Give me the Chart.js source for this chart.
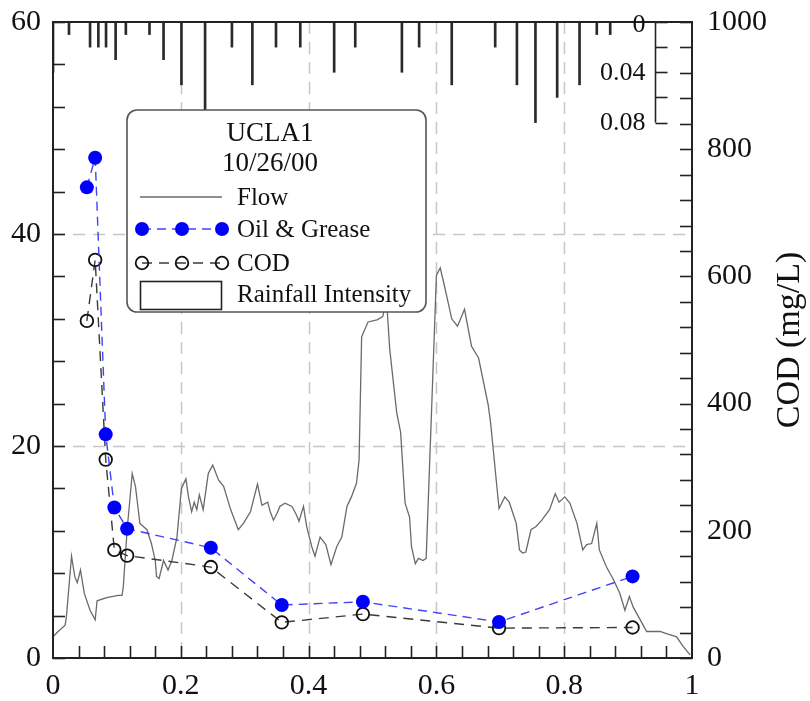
<!DOCTYPE html>
<html><head><meta charset="utf-8">
<script src="https://cdn.jsdelivr.net/npm/chart.js@4/dist/chart.umd.min.js"></script>
<style>html,body{margin:0;padding:0;background:#fff;}canvas{display:block;}</style>
</head><body>
<canvas id="c" width="810" height="701"></canvas>
<script>
// ---------- data ----------
const legendTitle = ['UCLA1', '10/26/00'];
const xMajorTicks = [0, 0.2, 0.4, 0.6, 0.8, 1];
const xTickLabels = ['0', '0.2', '0.4', '0.6', '0.8', '1'];
const leftMajorTicks = [0, 20, 40, 60];
const codMajorTicks = [0, 200, 400, 600, 800, 1000];
const rainAxisTicks = [0, 0.02, 0.04, 0.06, 0.08];
const rainTickLabels = [0, 0.04, 0.08];
const codAxisTitle = 'COD (mg/L)';

const flowTime = [0,0.008,0.019,0.021,0.029,0.034,0.038,0.043,0.049,0.058,0.066,0.069,0.084,0.102,0.108,0.110,0.116,0.124,0.129,0.136,0.147,0.154,0.160,0.162,0.166,0.173,0.180,0.186,0.194,0.201,0.208,0.212,0.217,0.221,0.225,0.229,0.235,0.243,0.250,0.259,0.267,0.278,0.290,0.298,0.309,0.320,0.327,0.336,0.340,0.345,0.351,0.355,0.363,0.374,0.381,0.385,0.392,0.397,0.405,0.410,0.418,0.427,0.435,0.444,0.452,0.460,0.467,0.475,0.479,0.483,0.493,0.507,0.516,0.522,0.527,0.538,0.544,0.551,0.558,0.561,0.567,0.572,0.579,0.584,0.593,0.600,0.606,0.613,0.624,0.633,0.644,0.655,0.666,0.681,0.685,0.698,0.707,0.714,0.725,0.730,0.735,0.740,0.748,0.756,0.765,0.777,0.786,0.792,0.801,0.809,0.820,0.829,0.835,0.843,0.851,0.855,0.866,0.877,0.887,0.895,0.902,0.908,0.919,0.929,0.950,0.960,0.976,0.986,0.997];
const flowValue = [2.0,2.5,3.1,3.9,9.6,7.7,7.1,8.3,6.1,4.5,3.6,5.4,5.7,5.9,5.9,6.7,12.1,17.4,16.2,12.7,12.1,10.8,9.2,7.7,7.5,9.2,8.3,9.2,11.4,16.0,16.9,15.2,13.8,14.7,14.0,15.4,14.0,17.4,18.2,16.8,16.2,14.0,12.1,12.7,13.8,16.4,14.4,14.7,13.8,13.0,13.7,14.3,14.6,14.3,13.5,12.9,14.3,12.4,10.5,9.6,11.4,10.7,8.8,10.5,11.4,14.3,15.2,16.5,18.7,30.3,31.7,31.9,32.2,33.8,29.1,23.1,21.3,14.6,13.3,10.5,8.9,9.4,9.2,9.4,24.3,36.1,36.8,35.0,32.0,31.3,32.9,29.4,28.3,23.9,22.1,14.1,15.2,14.7,12.7,10.2,9.9,10.0,12.1,12.4,13.0,14.0,15.5,14.7,15.2,14.6,12.7,10.2,10.7,10.8,12.7,10.2,8.6,7.4,6.1,4.5,5.8,4.8,3.6,2.5,2.5,2.3,2.0,1.1,0.3];

const sampleTime = [0.053, 0.066, 0.0825, 0.096, 0.116, 0.247, 0.358, 0.485, 0.698, 0.907];
const oilGrease = [44.4, 47.2, 21.1, 14.2, 12.2, 10.4, 5.0, 5.3, 3.4, 7.7];
const cod = [530, 626, 312, 170, 161, 143, 56, 69, 47, 48];

const rainTime = [0,0.025,0.058,0.071,0.083,0.098,0.114,0.151,0.173,0.201,0.238,0.280,0.312,0.349,0.387,0.440,0.473,0.546,0.573,0.624,0.692,0.726,0.755,0.789,0.824,0.851,0.872];
const rainIntensity = [0.04,0.01,0.02,0.02,0.02,0.03,0.01,0.01,0.03,0.05,0.07,0.02,0.05,0.02,0.02,0.04,0.02,0.04,0.02,0.05,0.02,0.05,0.08,0.06,0.05,0.01,0.01];

// ---------- helpers ----------
const SERIF = '"Liberation Serif", "Times New Roman", serif';
const idxNear = (v, arr) => arr.findIndex(a => Math.abs(a - v) < 1e-6);
const noPad = s => { s.paddingTop = 0; s.paddingBottom = 0; s.paddingLeft = 0; s.paddingRight = 0; };

const gridPlugin = {
  id: 'dashGrid',
  beforeDatasetsDraw(chart) {
    const {ctx, chartArea: a, scales} = chart;
    ctx.save();
    ctx.strokeStyle = '#c6c6c6';
    ctx.lineWidth = 1.5;
    ctx.setLineDash([12, 8]);
    xMajorTicks.forEach(v => {
      if (v <= 0 || v >= 1) return;
      const px = Math.round(scales.x.getPixelForValue(v)) + 0.5;
      ctx.beginPath(); ctx.moveTo(px, a.top); ctx.lineTo(px, a.bottom); ctx.stroke();
    });
    leftMajorTicks.forEach(v => {
      if (v <= 0 || v >= 60) return;
      const py = Math.round(scales.y.getPixelForValue(v)) + 0.5;
      ctx.beginPath(); ctx.moveTo(a.left, py); ctx.lineTo(a.right, py); ctx.stroke();
    });
    ctx.restore();
  }
};

const legendPlugin = {
  id: 'boxLegend',
  afterDatasetsDraw(chart) {
    const ctx = chart.ctx;
    const ds = chart.data.datasets;
    ctx.save();
    ctx.beginPath();
    ctx.roundRect(127, 110, 299, 202, 10);
    ctx.fillStyle = '#fff'; ctx.fill();
    ctx.lineWidth = 1.6; ctx.strokeStyle = '#555'; ctx.stroke();

    ctx.fillStyle = '#111';
    ctx.textAlign = 'center'; ctx.textBaseline = 'middle';
    ctx.font = '27px ' + SERIF;
    ctx.fillText(legendTitle[0], 270, 134);
    ctx.fillText(legendTitle[1], 270, 164);

    ctx.font = '25px ' + SERIF;
    ctx.textAlign = 'left';
    const tx = 237;
    // Flow
    ctx.strokeStyle = ds[2].borderColor; ctx.lineWidth = 1.3; ctx.setLineDash([]);
    ctx.beginPath(); ctx.moveTo(140, 197); ctx.lineTo(222, 197); ctx.stroke();
    ctx.fillText(ds[2].label, tx, 198);
    // Oil & Grease
    ctx.strokeStyle = ds[0].borderColor; ctx.lineWidth = 1.4; ctx.setLineDash([9, 6]);
    ctx.beginPath(); ctx.moveTo(142, 229); ctx.lineTo(222, 229); ctx.stroke();
    ctx.setLineDash([]);
    [142, 182, 222].forEach(x => { ctx.beginPath(); ctx.arc(x, 229, 7, 0, Math.PI * 2); ctx.fillStyle = '#0000ff'; ctx.fill(); });
    ctx.fillStyle = '#111';
    ctx.fillText(ds[0].label, tx, 230);
    // COD
    ctx.strokeStyle = ds[1].borderColor; ctx.lineWidth = 1.4; ctx.setLineDash([10, 7]);
    ctx.beginPath(); ctx.moveTo(142, 263); ctx.lineTo(222, 263); ctx.stroke();
    ctx.setLineDash([]);
    ctx.strokeStyle = '#111'; ctx.lineWidth = 1.8;
    [142, 182, 222].forEach(x => { ctx.beginPath(); ctx.arc(x, 263, 6.3, 0, Math.PI * 2); ctx.stroke(); });
    ctx.fillText(ds[1].label, tx, 264);
    // Rainfall Intensity
    ctx.strokeStyle = '#222'; ctx.lineWidth = 1.6;
    ctx.strokeRect(140.5, 281.5, 81, 28);
    ctx.fillText(ds[3].label, tx, 295);
    ctx.restore();
  }
};

const framePlugin = {
  id: 'frameTicks',
  afterDraw(chart) {
    const {ctx, chartArea: a, scales} = chart;
    ctx.save();
    ctx.strokeStyle = '#222'; ctx.lineWidth = 1.6; ctx.setLineDash([]);
    const seg = (x1, y1, x2, y2) => { ctx.beginPath(); ctx.moveTo(x1, y1); ctx.lineTo(x2, y2); ctx.stroke(); };
    scales.x.ticks.forEach(t => {
      if (t.value <= 0 || t.value >= 1) return;
      const px = Math.round(scales.x.getPixelForValue(t.value)) + 0.5;
      seg(px, a.bottom, px, a.bottom - 12);
    });
    scales.y.ticks.forEach(t => {
      const py = Math.round(scales.y.getPixelForValue(t.value)) + 0.5;
      seg(a.left, py, a.left + 12, py);
    });
    scales.cod.ticks.forEach(t => {
      const py = Math.round(scales.cod.getPixelForValue(t.value)) + 0.5;
      seg(a.right, py, a.right - 12, py);
    });
    // frame
    ctx.lineWidth = 2;
    ctx.strokeRect(a.left, a.top, a.right - a.left, a.bottom - a.top);

    // rainfall intensity axis (inverted, top right)
    const rs = scales.rain;
    const ax = a.right - 36.5;
    ctx.lineWidth = 1.6;
    seg(ax, rs.getPixelForValue(0), ax, rs.getPixelForValue(rainAxisTicks[rainAxisTicks.length - 1]));
    rainAxisTicks.forEach(v => {
      const py = Math.round(rs.getPixelForValue(v)) + 0.5;
      seg(ax, py, ax + 12, py);
    });
    ctx.fillStyle = '#111';
    ctx.font = '26px ' + SERIF;
    ctx.textAlign = 'right'; ctx.textBaseline = 'middle';
    rainTickLabels.forEach(v => {
      const py = rs.getPixelForValue(v);
      ctx.fillText(String(v), ax - 10, v === 0 ? py + 3 : py + 1);
    });

    // right axis title (reads bottom to top)
    ctx.save();
    ctx.translate(a.right + 98, (a.top + a.bottom) / 2);
    ctx.rotate(-Math.PI / 2);
    ctx.textAlign = 'center'; ctx.textBaseline = 'middle';
    ctx.font = '34px ' + SERIF;
    ctx.fillText(codAxisTitle, 0, 0);
    ctx.restore();
    ctx.restore();
  }
};

const tickFont = {family: SERIF, size: 30};

new Chart(document.getElementById('c').getContext('2d'), {
  type: 'line',
  data: {
    datasets: [
      {
        label: 'Oil & Grease',
        data: sampleTime.map((t, i) => ({x: t, y: oilGrease[i]})),
        yAxisID: 'y',
        borderColor: 'rgba(45,45,245,0.9)', borderWidth: 1.4, borderDash: [9, 6],
        pointRadius: 7, pointBackgroundColor: '#0000ff', pointBorderColor: '#0000ff', pointBorderWidth: 0,
        fill: false, tension: 0
      },
      {
        label: 'COD',
        data: sampleTime.map((t, i) => ({x: t, y: cod[i]})),
        yAxisID: 'cod',
        borderColor: '#3a3a3a', borderWidth: 1.4, borderDash: [10, 7],
        pointRadius: 6.3, pointBackgroundColor: 'rgba(0,0,0,0)', pointBorderColor: '#111', pointBorderWidth: 1.8,
        fill: false, tension: 0
      },
      {
        label: 'Flow',
        data: flowTime.map((t, i) => ({x: t, y: flowValue[i]})),
        yAxisID: 'y',
        borderColor: '#6a6a6a', borderWidth: 1.3, pointRadius: 0,
        fill: false, tension: 0
      },
      {
        type: 'bar',
        label: 'Rainfall Intensity',
        data: rainTime.map((t, i) => ({x: t, y: rainIntensity[i]})),
        yAxisID: 'rain',
        backgroundColor: '#2a2a2a', borderWidth: 0, barThickness: 2, grouped: false
      }
    ]
  },
  options: {
    responsive: false, animation: false, devicePixelRatio: 1,
    layout: {padding: {top: 22, left: 0, right: 0, bottom: 0}},
    plugins: {legend: {display: false}, tooltip: {enabled: false}},
    scales: {
      x: {
        type: 'linear', min: 0, max: 1, offset: false,
        grid: {display: false, drawTicks: false}, border: {display: false},
        ticks: {
          stepSize: 0.04, maxTicksLimit: 200, autoSkip: false, maxRotation: 0, padding: 10,
          font: tickFont, color: '#111',
          callback: v => { const i = idxNear(v, xMajorTicks); return i >= 0 ? xTickLabels[i] : ''; }
        },
        afterFit: s => { s.height = 43; noPad(s); }
      },
      y: {
        type: 'linear', position: 'left', min: 0, max: 60,
        grid: {display: false, drawTicks: false}, border: {display: false},
        ticks: {
          stepSize: 4, maxTicksLimit: 200, autoSkip: false, padding: 12,
          font: tickFont, color: '#111',
          callback: v => idxNear(v, leftMajorTicks) >= 0 ? String(v) : ''
        },
        afterFit: s => { s.width = 53; noPad(s); }
      },
      cod: {
        type: 'linear', position: 'right', min: 0, max: 1000,
        grid: {display: false, drawTicks: false}, border: {display: false},
        ticks: {
          stepSize: 40, maxTicksLimit: 200, autoSkip: false, padding: 15,
          font: tickFont, color: '#111',
          callback: v => idxNear(v, codMajorTicks) >= 0 ? String(v) : ''
        },
        afterFit: s => { s.width = 118; noPad(s); }
      },
      rain: {
        type: 'linear', position: 'left', reverse: true, min: 0, max: 0.506,
        grid: {display: false, drawTicks: false}, border: {display: false},
        ticks: {display: false},
        afterFit: s => { s.width = 0; noPad(s); }
      }
    }
  },
  plugins: [gridPlugin, legendPlugin, framePlugin]
});
</script>
</body></html>
